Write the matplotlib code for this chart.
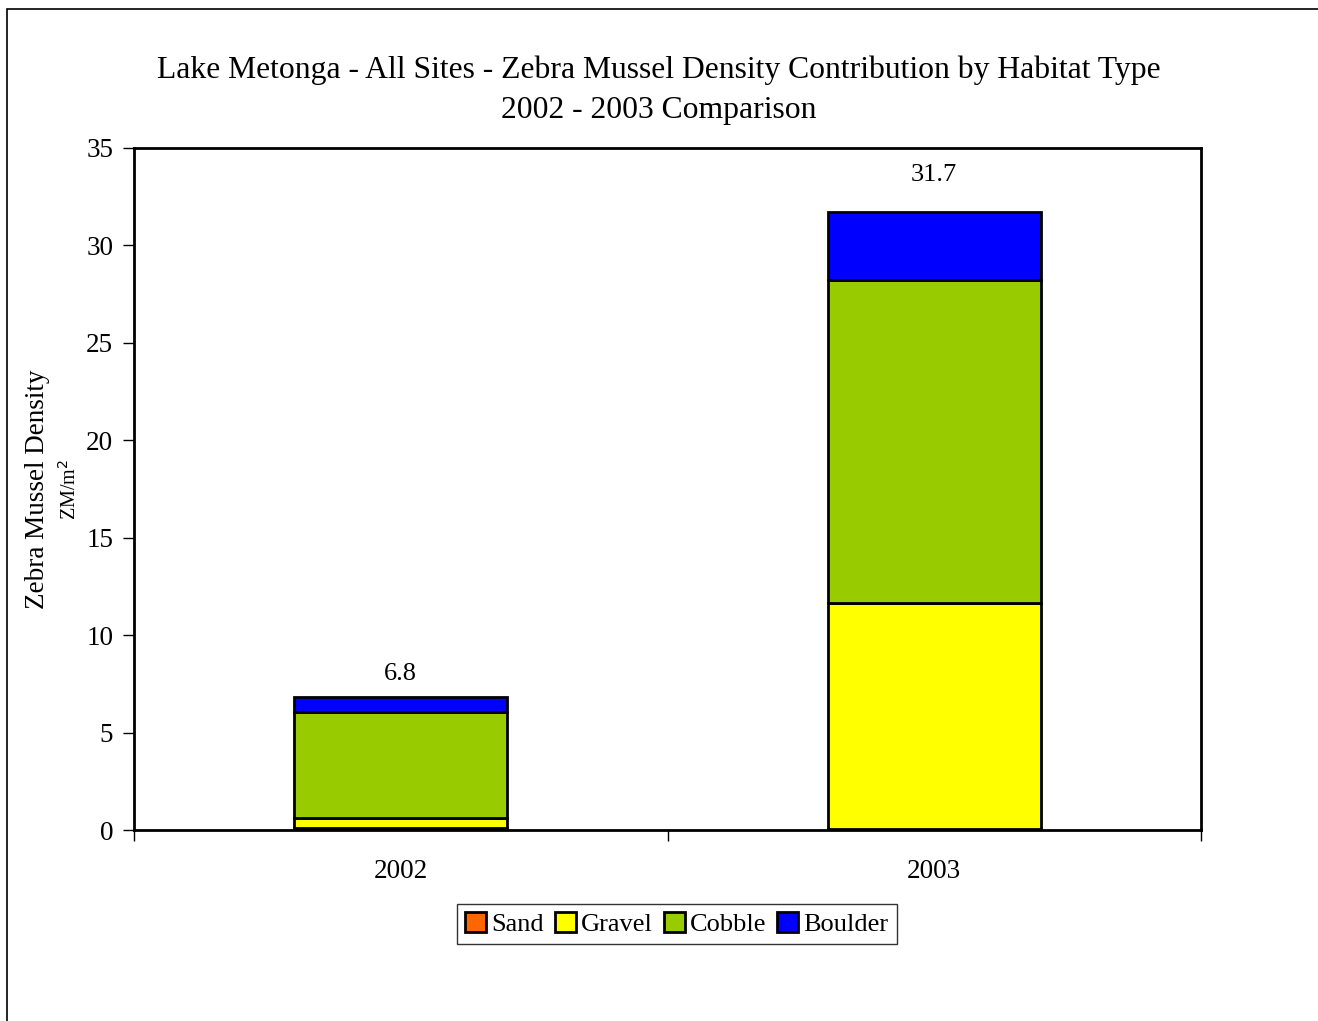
import numpy as np
import matplotlib.pyplot as plt
from matplotlib.patches import Rectangle

plt.rcParams['font.family'] = ['Liberation Serif', 'DejaVu Serif']

years = ["2002", "2003"]
habitats = ["Sand", "Gravel", "Cobble", "Boulder"]
sand = [0.1, 0.05]
gravel = [0.5, 11.6]
cobble = [5.45, 16.6]
boulder = [0.75, 3.45]
totals = [6.8, 31.7]
colors = ["#FF6600", "#FFFF00", "#99CC00", "#0000FF"]
label_offsets = [17, 27]  # points above bar top

fig = plt.figure(figsize=(13.18, 10.21), dpi=100)
ax = fig.add_axes([134 / 1318, 1 - 830 / 1021, (1201 - 134) / 1318, (830 - 148) / 1021])

x = np.arange(len(years))
bottom = np.zeros(len(years))
for name, vals, c in zip(habitats, [sand, gravel, cobble, boulder], colors):
    ax.bar(x, vals, 0.4, bottom=bottom, color=c, edgecolor="black", linewidth=2, label=name)
    bottom += np.array(vals)

for xi, t, off in zip(x, totals, label_offsets):
    ax.annotate(f"{t}", (xi, t), xytext=(0, off), textcoords="offset points",
                ha="center", va="center", fontsize=19)

ax.set_xlim(-0.5, 1.5)
ax.set_ylim(0, 35)
ax.set_yticks(range(0, 36, 5))
ax.set_xticks([-0.5, 0.5, 1.5])
ax.set_xticklabels([])
ax.set_xticks(x, minor=True)
ax.set_xticklabels(years, minor=True)
ax.tick_params(axis="x", which="major", direction="out", length=8, width=1)
ax.tick_params(axis="x", which="minor", length=0, pad=21, labelsize=19.5)
ax.tick_params(axis="y", direction="out", length=8, width=1, labelsize=19.5, pad=7)
for s in ax.spines.values():
    s.set_linewidth(2)

fig.text(0.5, 1 - 70 / 1021, "Lake Metonga - All Sites - Zebra Mussel Density Contribution by Habitat Type",
         ha="center", va="center", fontsize=22.8)
fig.text(0.5, 1 - 110 / 1021, "2002 - 2003 Comparison", ha="center", va="center", fontsize=22.8)
fig.text(38 / 1318, 1 - 489 / 1021, "Zebra Mussel Density", rotation=90, ha="center", va="center", fontsize=19.5)
fig.text(70 / 1318, 1 - 489 / 1021, "ZM/m$^2$", rotation=90, ha="center", va="center", fontsize=14.5)

leg = fig.legend(loc="center", bbox_to_anchor=(677 / 1318, 1 - 924 / 1021), ncol=4, fontsize=19,
                 frameon=True, fancybox=False, edgecolor="black", handlelength=0.8, handleheight=0.8,
                 handletextpad=0.2, columnspacing=0.4, borderpad=0.3, borderaxespad=0)
leg.get_frame().set_linewidth(1)

fig.patches.append(Rectangle((7 / 1318, -0.01), 1.02, 1 - 9 / 1021 + 0.01, transform=fig.transFigure,
                             fill=False, edgecolor="black", linewidth=1.2))

fig.savefig("out.png", dpi=100)
